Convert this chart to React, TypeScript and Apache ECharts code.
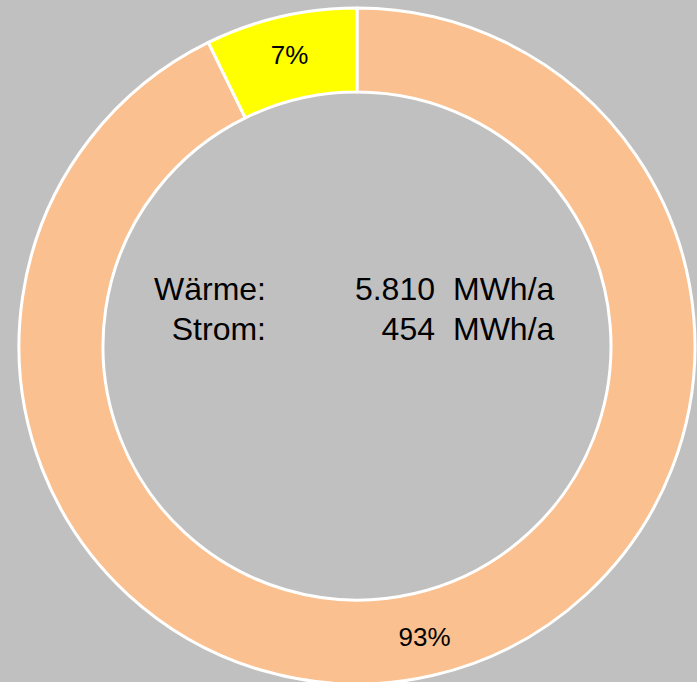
import React, { useEffect, useRef } from "react";
import * as echarts from "echarts";

const categories = ["Wärme", "Strom"];
const values = [5810, 454];
const unit = "MWh/a";
const colors = ["#FAC090", "#FFFF00"];

function formatDe(n: number): string {
  const s = Math.round(n).toString();
  return s.replace(/\B(?=(\d{3})+(?!\d))/g, ".");
}

export default function App() {
  const ref = useRef<HTMLDivElement>(null);
  useEffect(() => {
    if (!ref.current) return;
    const chart = echarts.init(ref.current, undefined, { renderer: "svg" });
    const font = "'Liberation Sans', Arial, sans-serif";
    const rowY = [289, 329];
    const graphics: any[] = [];
    categories.forEach((c, i) => {
      graphics.push({
        type: "text",
        x: 266,
        y: rowY[i],
        style: { text: c + ":", font: `32px ${font}`, fill: "#000", align: "right", verticalAlign: "middle" },
      });
      graphics.push({
        type: "text",
        x: 435,
        y: rowY[i],
        style: { text: formatDe(values[i]), font: `32px ${font}`, fill: "#000", align: "right", verticalAlign: "middle" },
      });
      graphics.push({
        type: "text",
        x: 453,
        y: rowY[i],
        style: { text: unit, font: `32px ${font}`, fill: "#000", align: "left", verticalAlign: "middle" },
      });
    });
    chart.setOption({
      animation: false,
      backgroundColor: "#C0C0C0",
      graphic: graphics,
      series: [
        {
          type: "pie",
          center: [357, 346],
          radius: [254, 338],
          startAngle: 90,
          clockwise: true,
          silent: true,
          label: {
            show: true,
            position: "inside",
            fontSize: 26,
            fontFamily: font,
            color: "#000",
            formatter: (p: any) => Math.round(p.percent) + "%",
          },
          labelLine: { show: false },
          itemStyle: { borderColor: "#FFFFFF", borderWidth: 3 },
          emphasis: { disabled: true },
          data: categories.map((c, i) => ({
            name: c,
            value: values[i],
            itemStyle: { color: colors[i] },
          })),
        },
      ],
    });
    return () => chart.dispose();
  }, []);
  return (
    <div
      ref={ref}
      style={{ position: "absolute", left: 0, top: 0, width: 697, height: 682 }}
    />
  );
}
